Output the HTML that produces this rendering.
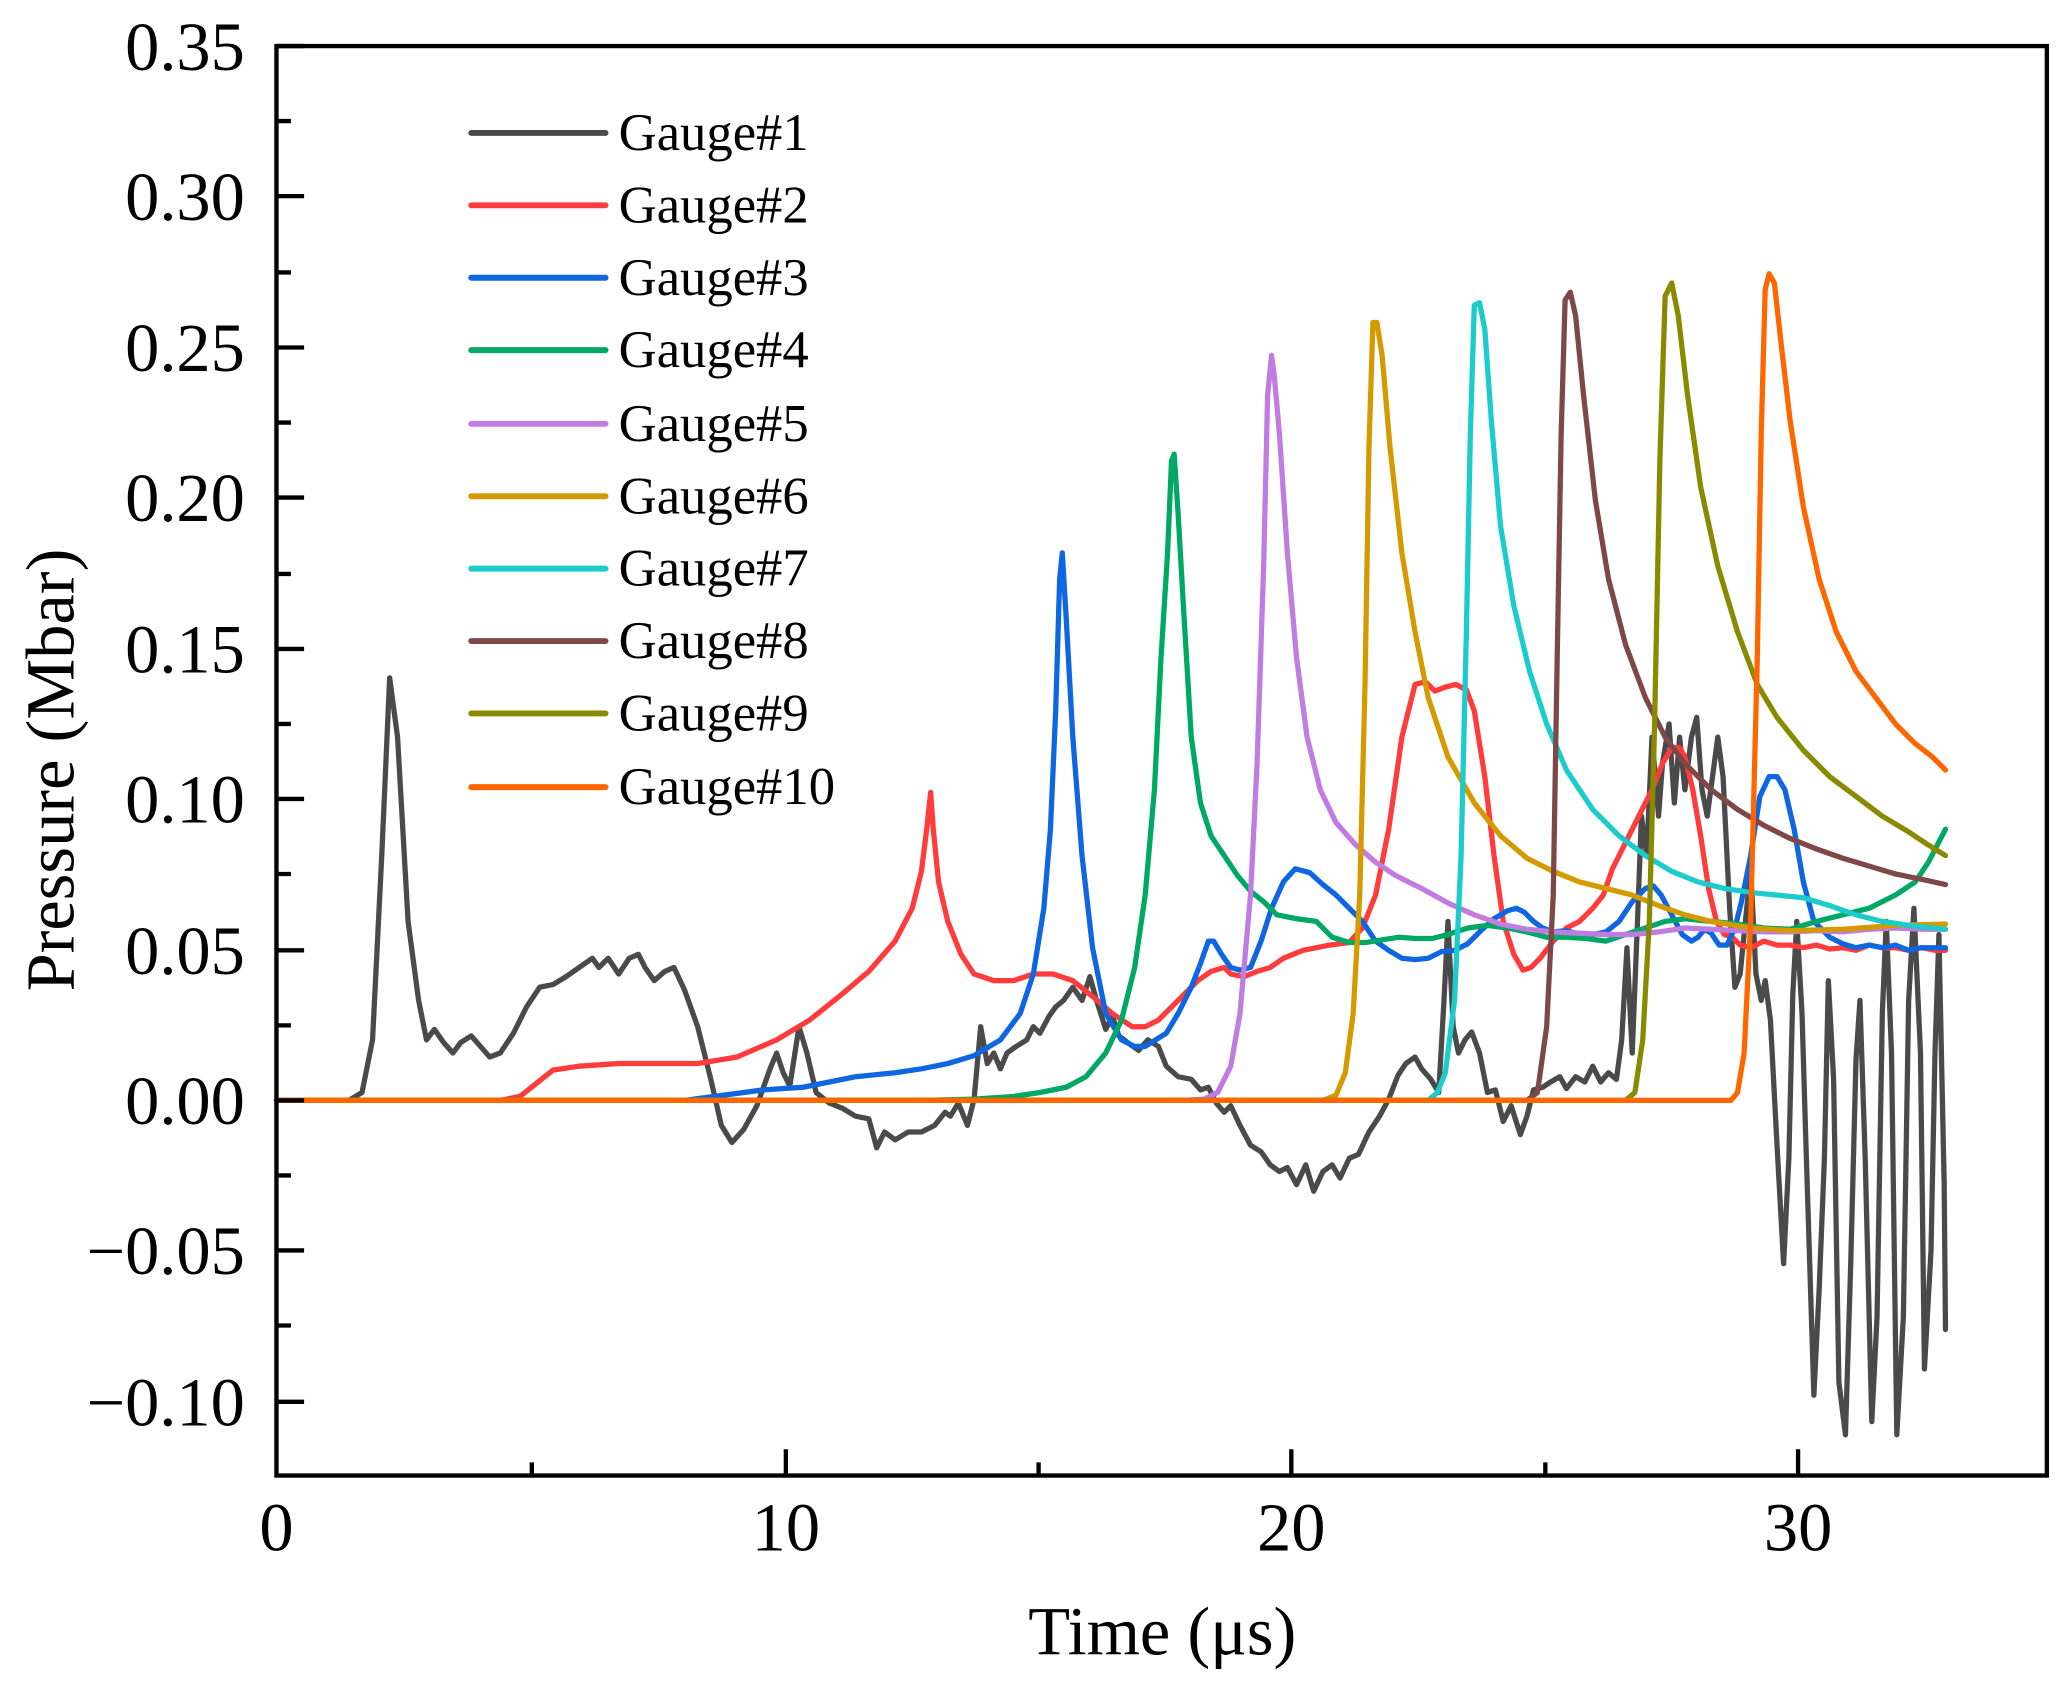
<!DOCTYPE html>
<html><head><meta charset="utf-8"><style>html,body{margin:0;padding:0;background:#fff}svg{display:block}</style></head>
<body>
<svg width="2064" height="1693" viewBox="0 0 1568 1286.2" xmlns="http://www.w3.org/2000/svg" font-family="'Liberation Serif', serif">
<rect width="1568" height="1287" fill="#fff"/>
<g fill="none" stroke-width="4" stroke-linejoin="round" stroke-linecap="round">
<polyline stroke="#4a4a4a" points="210,836 265,836 275,830 283,790 290,650 296,515 302,560 310,700 318,760 324,790 330,782 337,792 344,800 350,792 358,787 365,795 372,803 380,800 390,785 400,765 410,750 420,748 430,742 440,735 450,728 455,735 462,728 470,740 478,728 485,725 490,735 497,745 505,738 512,735 520,752 530,780 540,820 548,855 556,868 565,858 575,840 585,812 590,800 595,815 600,825 607,780 613,800 620,830 630,838 640,842 650,848 660,850 666,872 672,860 680,866 690,860 700,860 710,855 718,845 722,848 728,838 735,855 740,835 745,780 750,808 755,800 760,812 765,800 772,795 780,790 785,780 790,785 797,772 802,765 808,760 815,750 822,760 828,742 833,760 840,782 845,772 850,787 858,793 865,798 872,790 880,795 886,810 895,818 905,820 912,828 918,826 924,838 930,845 935,840 942,855 950,870 958,875 965,885 972,890 978,887 985,900 992,885 998,905 1005,890 1012,885 1018,895 1025,880 1032,877 1040,860 1048,848 1055,835 1062,817 1068,808 1075,803 1080,812 1087,820 1093,830 1097,760 1100,700 1104,780 1108,800 1113,790 1118,784 1124,800 1130,830 1136,828 1142,852 1148,840 1155,862 1160,848 1165,828 1172,826 1178,822 1185,818 1190,827 1197,818 1204,822 1210,810 1216,822 1222,815 1228,820 1232,790 1236,720 1240,800 1244,700 1247,620 1251,650 1255,560 1260,620 1263,580 1268,550 1272,610 1276,560 1280,600 1285,560 1289,545 1293,600 1297,620 1301,590 1305,560 1309,590 1314,690 1318,750 1322,740 1326,700 1330,660 1334,740 1338,760 1341,745 1345,775 1350,870 1355,960 1359,880 1362,755 1365,700 1369,770 1372,870 1378,1060 1382,980 1386,880 1389,745 1393,820 1397,1050 1402,1090 1406,960 1410,805 1413,760 1417,880 1422,1080 1426,1000 1430,770 1433,700 1437,800 1441,1090 1446,1000 1450,760 1454,690 1459,800 1462,1040 1467,950 1470,800 1473,710 1477,900 1478,1010"/>
<polyline stroke="#ff3b3b" points="210,836 380,836 395,833 405,825 420,813 440,810 470,808 500,808 530,808 560,803 590,790 615,775 640,755 660,738 680,715 693,690 700,662 704,630 707,602 709,630 713,670 720,700 730,725 740,740 755,745 770,745 785,740 800,740 815,745 830,757 845,770 860,780 870,780 880,775 890,765 900,755 910,745 920,738 930,735 935,740 945,742 955,738 965,735 975,728 990,722 1010,718 1025,716 1035,705 1045,680 1055,630 1065,560 1075,520 1083,518 1090,525 1098,522 1106,520 1114,524 1120,540 1128,590 1135,650 1142,700 1150,725 1157,737 1163,735 1170,728 1180,715 1190,705 1200,700 1210,690 1218,680 1225,660 1235,640 1245,620 1255,600 1263,580 1270,568 1276,568 1280,575 1286,600 1292,635 1298,675 1304,700 1310,710 1316,712 1322,718 1330,720 1340,715 1350,718 1360,718 1370,720 1380,718 1390,721 1400,720 1410,722 1420,718 1430,720 1440,720 1450,722 1460,720 1470,722 1478,722"/>
<polyline stroke="#0e66e0" points="210,836 520,836 550,832 580,828 610,826 630,822 650,818 680,815 700,812 720,808 740,802 760,790 775,770 785,740 793,690 798,630 802,540 805,440 807,420 810,470 815,560 822,650 830,720 840,770 852,790 862,795 870,795 878,790 886,785 895,770 905,750 912,732 918,715 922,715 928,725 935,735 942,737 950,735 958,715 966,690 975,670 984,660 995,663 1005,672 1015,680 1025,690 1035,700 1045,715 1055,722 1065,728 1075,729 1085,728 1095,723 1105,722 1115,717 1125,707 1135,698 1145,692 1152,690 1158,693 1165,700 1172,705 1180,708 1190,707 1200,710 1210,710 1220,708 1230,700 1240,685 1250,675 1256,673 1262,680 1270,695 1278,710 1285,715 1290,712 1295,706 1300,709 1306,718 1312,718 1318,705 1323,685 1330,650 1337,605 1344,590 1350,590 1356,600 1363,630 1370,670 1378,700 1390,712 1400,717 1410,720 1420,718 1430,720 1440,718 1450,722 1460,720 1478,720"/>
<polyline stroke="#00a865" points="210,836 700,836 740,835 770,833 790,830 810,826 825,818 840,800 852,775 862,735 870,680 877,600 882,500 887,420 890,350 892,345 895,390 899,460 905,560 912,610 920,635 930,650 940,665 950,677 960,685 970,695 985,698 1000,700 1012,712 1025,716 1038,716 1050,714 1063,712 1075,713 1088,713 1100,710 1115,705 1130,703 1145,705 1160,708 1175,712 1190,712 1205,713 1220,715 1235,710 1250,705 1265,700 1280,698 1300,700 1320,702 1340,705 1360,706 1380,700 1400,695 1420,690 1440,680 1455,670 1465,655 1478,630"/>
<polyline stroke="#c07ce0" points="210,836 900,836 915,835 925,830 935,810 942,770 950,680 955,580 960,430 963,300 966,270 968,285 972,330 978,420 985,500 993,560 1003,600 1015,625 1030,642 1045,655 1060,665 1080,675 1100,686 1120,695 1140,702 1160,706 1180,708 1200,709 1220,710 1240,710 1260,708 1280,705 1300,706 1320,707 1340,708 1360,708 1380,707 1400,708 1420,706 1440,705 1460,706 1478,706"/>
<polyline stroke="#d49a00" points="210,836 1005,836 1015,832 1022,815 1028,770 1033,680 1037,520 1040,340 1043,245 1046,245 1050,270 1056,340 1065,420 1075,480 1085,530 1100,575 1120,610 1140,635 1160,652 1180,662 1200,670 1220,675 1240,680 1260,688 1280,695 1300,700 1330,705 1360,707 1400,706 1440,703 1478,702"/>
<polyline stroke="#1ccccc" points="210,836 1085,836 1092,830 1098,815 1105,760 1110,650 1114,480 1117,330 1120,232 1124,230 1128,250 1133,320 1140,400 1150,460 1162,510 1175,550 1190,585 1210,615 1230,635 1250,650 1270,662 1290,670 1310,675 1330,678 1350,680 1370,682 1390,688 1410,695 1430,700 1450,703 1478,706"/>
<polyline stroke="#7f4848" points="210,836 1160,836 1168,830 1175,780 1180,680 1183,500 1186,330 1189,228 1193,222 1197,240 1203,300 1212,380 1222,440 1235,490 1250,530 1265,560 1280,580 1300,600 1320,615 1340,627 1360,637 1380,645 1400,652 1420,658 1440,664 1460,668 1478,672"/>
<polyline stroke="#8a8a00" points="210,836 1235,836 1242,830 1248,790 1253,700 1257,550 1261,350 1265,225 1270,215 1275,240 1282,300 1292,370 1305,430 1320,480 1335,520 1350,545 1370,570 1390,590 1410,605 1430,620 1450,632 1465,642 1478,650"/>
<polyline stroke="#ff6600" points="210,836 1315,836 1320,830 1325,800 1330,700 1335,500 1338,330 1341,220 1344,208 1348,215 1353,260 1360,320 1370,385 1382,440 1395,480 1410,510 1425,530 1440,550 1455,565 1468,575 1478,585"/>
</g>
<rect x="210" y="35" width="1345" height="1086" fill="none" stroke="#000" stroke-width="3.3"/>
<g stroke="#000" stroke-width="3.3">
<path d="M210 35h21M210 149h21M210 264h21M210 378h21M210 493h21M210 607h21M210 722h21M210 836h21M210 950h21M210 1065h21"/>
<path d="M210 92h11M210 207h11M210 321h11M210 436h11M210 550h11M210 664h11M210 779h11M210 893h11M210 1007h11"/>
<path d="M597 1121v-20M981 1121v-20M1366 1121v-20M404 1121v-10M789 1121v-10M1174 1121v-10"/>
</g>
<g font-size="52" text-anchor="end" fill="#000">
<text x="186" y="53">0.35</text><text x="186" y="167">0.30</text><text x="186" y="282">0.25</text><text x="186" y="396">0.20</text><text x="186" y="511">0.15</text><text x="186" y="625">0.10</text><text x="186" y="740">0.05</text><text x="186" y="854">0.00</text><text x="186" y="968">−0.05</text><text x="186" y="1083">−0.10</text>
</g>
<g font-size="52" text-anchor="middle" fill="#000">
<text x="210" y="1178">0</text><text x="597" y="1178">10</text><text x="981" y="1178">20</text><text x="1366" y="1178">30</text>
<text x="883" y="1257">Time (μs)</text>
<text transform="translate(56,585) rotate(-90)">Pressure (Mbar)</text>
</g>
<g stroke-width="4.5" stroke-linecap="round">
<path stroke="#4a4a4a" d="M358 101h102"/><path stroke="#ff3b3b" d="M358 156h102"/><path stroke="#0e66e0" d="M358 211h102"/><path stroke="#00a865" d="M358 266h102"/><path stroke="#c07ce0" d="M358 322h102"/><path stroke="#d49a00" d="M358 377h102"/><path stroke="#1ccccc" d="M358 432h102"/><path stroke="#7f4848" d="M358 487h102"/><path stroke="#8a8a00" d="M358 542h102"/><path stroke="#ff6600" d="M358 598h102"/>
</g>
<g font-size="40" fill="#000">
<text x="470" y="114">Gauge#1</text><text x="470" y="169">Gauge#2</text><text x="470" y="224">Gauge#3</text><text x="470" y="279">Gauge#4</text><text x="470" y="335">Gauge#5</text><text x="470" y="390">Gauge#6</text><text x="470" y="445">Gauge#7</text><text x="470" y="500">Gauge#8</text><text x="470" y="555">Gauge#9</text><text x="470" y="611">Gauge#10</text>
</g>
</svg>
</body></html>
